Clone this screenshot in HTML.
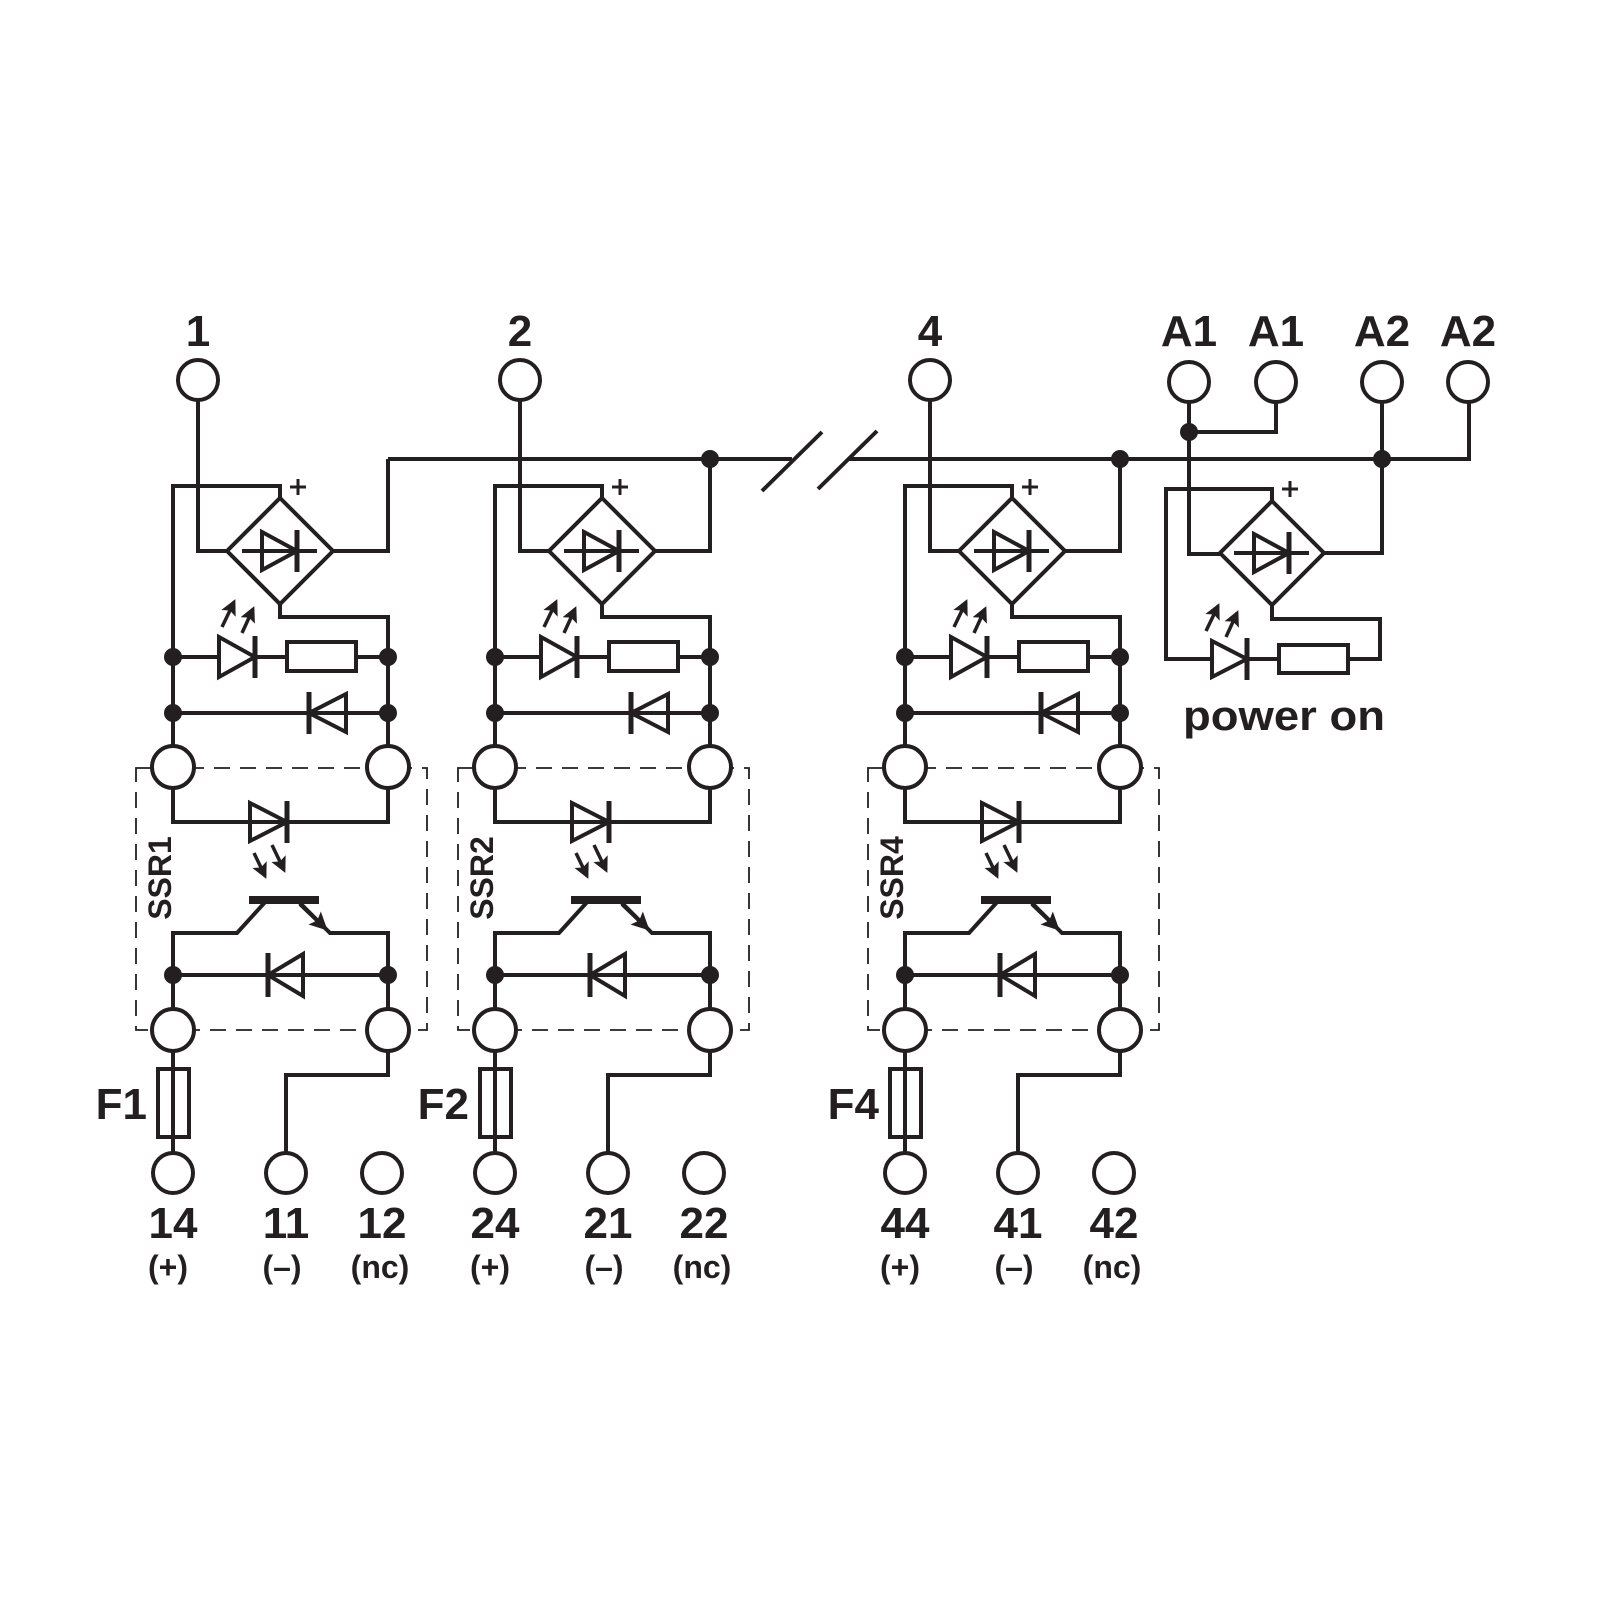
<!DOCTYPE html>
<html><head><meta charset="utf-8"><style>
html,body{margin:0;padding:0;background:#fff}
svg{display:block}
text{font-family:"Liberation Sans",Arial,sans-serif;font-weight:bold;fill:#231f20}
</style></head><body>
<svg width="1600" height="1600" viewBox="0 0 1600 1600" xmlns="http://www.w3.org/2000/svg">
<defs>
<marker id="ah" viewBox="0 0 10 10" refX="8" refY="5" markerWidth="4.5" markerHeight="4.5" orient="auto" markerUnits="strokeWidth">
<path d="M0,0 L10,5 L0,10 L2,5 z" fill="#231f20"/>
</marker>
<g id="ch" fill="none" stroke="#231f20" stroke-width="4">
  <rect x="136" y="768" width="291" height="262" stroke-width="1.8" stroke-dasharray="16 10"/>
  <path d="M198,400 V551 H227"/>
  <polygon points="280,498 333,551 280,604 227,551"/>
  <path d="M242,551 H317"/>
  <polygon points="262,532 262,570 297,551"/>
  <path d="M297,530 V572" stroke-width="5"/>
  <path d="M298,479 V495 M290,487 H306" stroke-width="3"/>
  <path d="M280,498 V486 H173 V746"/>
  <path d="M333,551 H388 V459"/>
  <path d="M280,604 V617 H388 V746"/>
  <path d="M173,657 H219 M255,657 H287 M356,657 H388"/>
  <polygon points="219,637 219,677 255,657"/>
  <path d="M255,636 V678" stroke-width="5"/>
  <rect x="287" y="642" width="69" height="29"/>
  <path d="M222,627 L234,602" stroke-width="3.5" marker-end="url(#ah)"/>
  <path d="M242,633 L253,609" stroke-width="3.5" marker-end="url(#ah)"/>
  <path d="M173,713 H388"/>
  <path d="M309,692 V734" stroke-width="5"/>
  <polygon points="346,694 346,732 309,713"/>
  <path d="M173,788 V822 H388 V788"/>
  <polygon points="250,803 250,841 287,822"/>
  <path d="M287,801 V843" stroke-width="5"/>
  <path d="M254,853 L265,876" stroke-width="3.5" marker-end="url(#ah)"/>
  <path d="M272,845 L284,870" stroke-width="3.5" marker-end="url(#ah)"/>
  <path d="M249,900 H319" stroke-width="8"/>
  <path d="M267,900 L237,933 H173 V1009"/>
  <path d="M297,900 L330,933 H388 V1009"/>
  <path d="M300,904 L325,928" stroke-width="4" marker-end="url(#ah)"/>
  <path d="M173,975 H388"/>
  <path d="M268,953 V997" stroke-width="5"/>
  <polygon points="303,954 303,996 268,975"/>
  <path d="M173,1051 V1153"/>
  <rect x="158" y="1069" width="31" height="68" fill="#fff"/>
  <path d="M173,1069 V1137"/>
  <path d="M388,1051 V1075 H286 V1153"/>
  <circle cx="198" cy="380" r="20" fill="#fff"/>
  <circle cx="173" cy="767" r="21" fill="#fff"/>
  <circle cx="388" cy="767" r="21" fill="#fff"/>
  <circle cx="173" cy="1030" r="21" fill="#fff"/>
  <circle cx="388" cy="1030" r="21" fill="#fff"/>
  <circle cx="173" cy="1173" r="20" fill="#fff"/>
  <circle cx="286" cy="1173" r="20" fill="#fff"/>
  <circle cx="382" cy="1173" r="20" fill="#fff"/>
  <g fill="#231f20" stroke="none">
    <circle cx="173" cy="657" r="9"/><circle cx="388" cy="657" r="9"/>
    <circle cx="173" cy="713" r="9"/><circle cx="388" cy="713" r="9"/>
    <circle cx="173" cy="975" r="9"/><circle cx="388" cy="975" r="9"/>
  </g>
</g>
</defs>

<use href="#ch"/>
<use href="#ch" x="322"/>
<use href="#ch" x="732"/>

<g fill="none" stroke="#231f20" stroke-width="4">
  <path d="M388,459 H792 M848,459 H1469 V402"/>
  <path d="M762,491 L822,432 M818,489 L877,431"/>
  <path d="M1189,402 V554 H1220"/>
  <path d="M1189,432 H1276 V402"/>
  <path d="M1382,402 V553 H1324"/>
  <polygon points="1272,501 1324,553 1272,605 1220,553"/>
  <path d="M1234,553 H1309"/>
  <polygon points="1254,534 1254,572 1289,553"/>
  <path d="M1289,532 V574" stroke-width="5"/>
  <path d="M1290,481 V497 M1282,489 H1298" stroke-width="3"/>
  <path d="M1272,501 V489 H1166 V659 H1212 M1247,659 H1279 M1348,659 H1380 V619 H1272 V605"/>
  <polygon points="1212,641 1212,677 1247,659"/>
  <path d="M1247,638 V680" stroke-width="5"/>
  <rect x="1279" y="645" width="69" height="28"/>
  <path d="M1206,631 L1218,606" stroke-width="3.5" marker-end="url(#ah)"/>
  <path d="M1226,637 L1237,613" stroke-width="3.5" marker-end="url(#ah)"/>
  <circle cx="1189" cy="382" r="20" fill="#fff"/>
  <circle cx="1276" cy="382" r="20" fill="#fff"/>
  <circle cx="1382" cy="382" r="20" fill="#fff"/>
  <circle cx="1468" cy="382" r="20" fill="#fff"/>
  <g fill="#231f20" stroke="none">
    <circle cx="710" cy="459" r="9"/>
    <circle cx="1120" cy="459" r="9"/>
    <circle cx="1382" cy="459" r="9"/>
    <circle cx="1189" cy="432" r="9"/>
  </g>
</g>

<g font-size="44" text-anchor="middle">
  <text x="198" y="346">1</text>
  <text x="520" y="346">2</text>
  <text x="930" y="346">4</text>
  <text x="1189" y="346">A1</text>
  <text x="1276" y="346">A1</text>
  <text x="1382" y="346">A2</text>
  <text x="1468" y="346">A2</text>
  <text x="173" y="1238">14</text><text x="286" y="1238">11</text><text x="382" y="1238">12</text>
  <text x="495" y="1238">24</text><text x="608" y="1238">21</text><text x="704" y="1238">22</text>
  <text x="905" y="1238">44</text><text x="1018" y="1238">41</text><text x="1114" y="1238">42</text>
</g>
<g font-size="44" text-anchor="end">
  <text x="147" y="1119">F1</text>
  <text x="469" y="1119">F2</text>
  <text x="879" y="1119">F4</text>
</g>
<g font-size="32" text-anchor="middle">
  <text x="168" y="1278">(+)</text><text x="282" y="1278">(–)</text><text x="380" y="1278">(nc)</text>
  <text x="490" y="1278">(+)</text><text x="604" y="1278">(–)</text><text x="702" y="1278">(nc)</text>
  <text x="900" y="1278">(+)</text><text x="1014" y="1278">(–)</text><text x="1112" y="1278">(nc)</text>
</g>
<g font-size="32" text-anchor="middle">
  <text transform="translate(171,878) rotate(-90)">SSR1</text>
  <text transform="translate(493,878) rotate(-90)">SSR2</text>
  <text transform="translate(903,878) rotate(-90)">SSR4</text>
</g>
<text x="1183" y="730" font-size="42" textLength="202" lengthAdjust="spacingAndGlyphs">power on</text>
</svg>
</body></html>
